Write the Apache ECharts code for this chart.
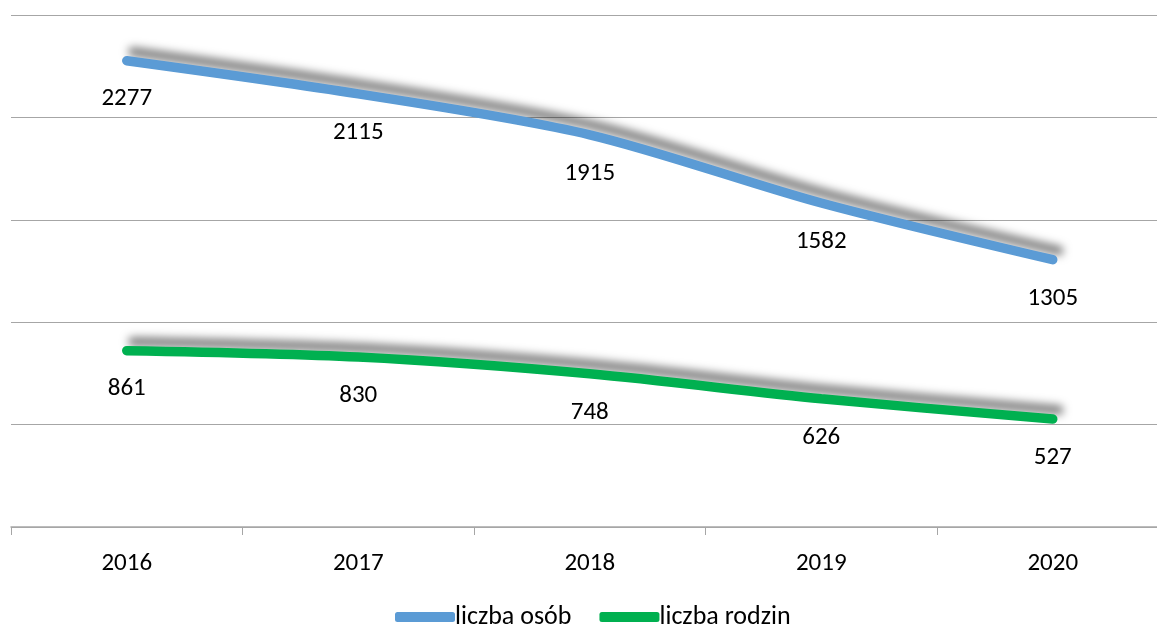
<!DOCTYPE html>
<html>
<head>
<meta charset="UTF-8">
<title></title>
<script src="https://cdn.jsdelivr.net/npm/echarts@6/dist/echarts.min.js"></script>
</head>
<body style="margin:0;">
<div id="chart" style="width:1157px;height:627px;"></div>
<script type="text/javascript">
var years = ['2016', '2017', '2018', '2019', '2020'];
var osoby = [2277, 2115, 1915, 1582, 1305];
var rodziny = [861, 830, 748, 626, 527];
var font = 'Carlito, Lato, sans-serif';

function makeSeries(name, data, color) {
    return {
        name: name,
        type: 'line',
        data: data,
        smooth: 0.3,
        symbol: 'circle',
        symbolSize: 0.1,
        showSymbol: true,
        lineStyle: {
            width: 9.5,
            color: color,
            cap: 'round',
            shadowColor: 'rgba(0,0,0,0.5)',
            shadowBlur: 9,
            shadowOffsetX: 6,
            shadowOffsetY: -9
        },
        itemStyle: { color: color },
        label: {
            show: true,
            position: 'bottom',
            distance: 26,
            color: '#000',
            fontSize: 25,
            fontFamily: font
        }
    };
}

var chart = echarts.init(document.getElementById('chart'));
chart.setOption({
    animation: false,
    grid: { left: 11, top: 15, width: 1157.5, bottom: 100, outerBoundsMode: 'none' },
    legend: {
        top: 599,
        left: 390,
        icon: 'roundRect',
        itemWidth: 60,
        itemHeight: 10,
        itemGap: 28,
        textStyle: { fontSize: 26, fontFamily: font, color: '#000', padding: [0, 0, 0, -5] },
        data: ['liczba osób', 'liczba rodzin']
    },
    xAxis: {
        type: 'category',
        data: years,
        axisLine: { lineStyle: { color: '#a6a6a6', width: 1.5 } },
        axisTick: { show: true, length: 8, lineStyle: { color: '#a6a6a6' } },
        axisLabel: { fontSize: 25, fontFamily: font, color: '#000', margin: 24 }
    },
    yAxis: {
        type: 'value',
        min: 0,
        max: 2500,
        interval: 500,
        axisLabel: { show: false },
        axisLine: { show: false },
        axisTick: { show: false },
        splitLine: { lineStyle: { color: '#a6a6a6', width: 1.2 } }
    },
    series: [
        makeSeries('liczba osób', osoby, '#5b9bd5'),
        makeSeries('liczba rodzin', rodziny, '#00b050')
    ]
});
</script>
</body>
</html>
